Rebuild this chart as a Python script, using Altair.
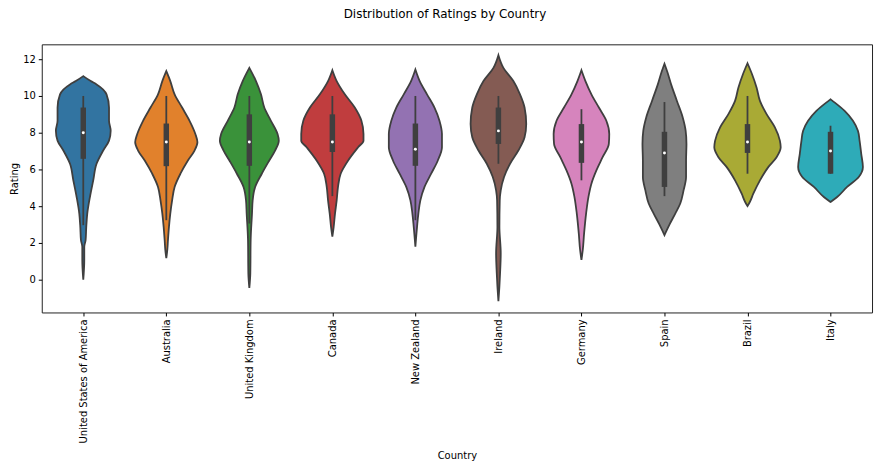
import altair as alt
import pandas as pd

countries = ["United States of America", "Australia", "United Kingdom", "Canada",
             "New Zealand", "Ireland", "Germany", "Spain", "Brazil", "Italy"]
colors = ["#3274a1", "#e1812c", "#3a923a", "#c03d3e", "#9372b2",
          "#845b53", "#d684bd", "#7f7f7f", "#a9aa35", "#2eabb8"]

# violin outlines: rating levels and half-widths (in category units)
usa_r = [11.08, 10.81, 10.63, 10.09, 9.37, 8.65, 8.11, 7.57, 7.03, 6.31, 5.41, 4.50, 3.60, 2.88, 2.16, 1.80, 1.08, 0.0]
usa_w = [0.0, 0.09, 0.16, 0.28, 0.31, 0.31, 0.33, 0.31, 0.24, 0.16, 0.12, 0.08, 0.048, 0.036, 0.028, 0.012, 0.012, 0.0]
aus_r = [11.35, 10.81, 10.09, 9.37, 8.65, 7.93, 7.48, 7.03, 6.49, 5.77, 5.05, 4.32, 3.60, 2.88, 2.16, 1.62, 1.17]
aus_w = [0.0, 0.048, 0.10, 0.19, 0.28, 0.35, 0.375, 0.34, 0.26, 0.17, 0.10, 0.07, 0.048, 0.032, 0.02, 0.012, 0.0]
uk_r = [11.53, 10.81, 10.09, 9.37, 8.65, 7.93, 7.57, 7.03, 6.49, 5.77, 5.05, 4.32, 3.60, 2.16, 0.36, -0.45]
uk_w = [0.0, 0.08, 0.14, 0.18, 0.26, 0.34, 0.355, 0.31, 0.24, 0.15, 0.07, 0.04, 0.032, 0.016, 0.012, 0.0]
can_r = [11.40, 10.81, 10.09, 9.37, 8.65, 7.93, 7.57, 7.21, 6.49, 5.77, 5.05, 4.32, 3.60, 2.88, 2.34]
can_w = [0.0, 0.052, 0.15, 0.27, 0.35, 0.375, 0.375, 0.31, 0.19, 0.10, 0.068, 0.052, 0.032, 0.016, 0.0]
nz_r = [11.44, 10.81, 10.09, 9.37, 8.65, 7.93, 7.21, 6.49, 5.77, 5.05, 4.32, 3.60, 2.88, 1.80]
nz_w = [0.0, 0.052, 0.14, 0.23, 0.29, 0.32, 0.32, 0.27, 0.19, 0.11, 0.06, 0.036, 0.02, 0.0]
ire_r = [12.22, 11.53, 10.81, 10.09, 9.37, 8.47, 7.75, 7.03, 6.31, 5.59, 4.86, 4.32, 2.88, 1.44, 0.36, -0.36, -1.17]
ire_w = [0.0, 0.06, 0.18, 0.26, 0.315, 0.335, 0.315, 0.24, 0.14, 0.068, 0.028, 0.016, 0.012, 0.028, 0.02, 0.012, 0.0]
ger_r = [11.40, 10.81, 10.09, 9.37, 8.65, 7.93, 7.39, 6.67, 5.95, 5.23, 4.50, 3.60, 2.52, 1.62, 1.08]
ger_w = [0.0, 0.048, 0.12, 0.21, 0.30, 0.335, 0.33, 0.255, 0.18, 0.12, 0.084, 0.056, 0.032, 0.016, 0.0]
spa_r = [11.75, 11.30, 10.63, 9.73, 8.83, 8.11, 7.39, 6.49, 5.59, 4.86, 4.15, 3.60, 3.00, 2.43]
spa_w = [0.0, 0.035, 0.08, 0.15, 0.22, 0.255, 0.265, 0.26, 0.26, 0.23, 0.19, 0.13, 0.06, 0.0]
bra_r = [11.78, 11.17, 10.45, 9.73, 9.01, 8.29, 7.57, 7.21, 6.67, 6.13, 5.41, 4.68, 4.23, 4.01]
bra_w = [0.0, 0.056, 0.11, 0.15, 0.23, 0.33, 0.39, 0.40, 0.35, 0.25, 0.15, 0.07, 0.028, 0.0]
ita_r = [9.82, 9.64, 9.19, 8.65, 8.11, 7.57, 6.85, 6.13, 5.59, 5.05, 4.50, 4.23]
ita_w = [0.0, 0.052, 0.17, 0.27, 0.33, 0.35, 0.37, 0.39, 0.34, 0.20, 0.08, 0.0]

# inner box plot values
whisk_lo = [2.97, 3.24, 3.06, 4.55, 3.24, 6.31, 5.41, 4.55, 5.77, 5.77]
whisk_hi = [10.0, 10.0, 10.0, 10.0, 10.0, 10.0, 9.28, 9.67, 10.0, 8.38]
q1 = [6.58, 6.18, 6.2, 6.95, 6.2, 7.39, 6.36, 5.05, 6.9, 5.77]
q3 = [9.37, 8.5, 9.0, 9.0, 8.5, 9.37, 8.47, 8.05, 8.47, 8.05]
medians = [8.0, 7.5, 7.5, 7.5, 7.1, 8.1, 7.5, 6.9, 7.5, 7.0]

profiles = [(usa_r, usa_w), (aus_r, aus_w), (uk_r, uk_w), (can_r, can_w), (nz_r, nz_w),
            (ire_r, ire_w), (ger_r, ger_w), (spa_r, spa_w), (bra_r, bra_w), (ita_r, ita_w)]

rows = []
for i, (rs, ws) in enumerate(profiles):
    for r, w in zip(rs, ws):
        rows.append({"country": countries[i], "idx": i, "rating": r, "hw": w})
violin_df = pd.DataFrame(rows).sort_values(["idx", "rating"])

box_df = pd.DataFrame({"country": countries, "idx": list(range(10)),
                       "lo": whisk_lo, "hi": whisk_hi, "q1": q1, "q3": q3, "med": medians})

label_expr = "[" + ",".join('"%s"' % c for c in countries) + "][datum.value]"

xscale = alt.Scale(domain=[-0.5, 9.5], nice=False, zero=False)
yscale = alt.Scale(domain=[-1.78, 12.81], nice=False, zero=False)

xaxis = alt.Axis(title="Country", values=list(range(10)), labelExpr=label_expr,
                 labelAngle=-90, labelFontSize=10, labelColor="#000", tickColor="#000",
                 tickSize=3.5, labelPadding=3, grid=False, domain=False,
                 titleFontSize=10, titleFontWeight="normal", titleColor="#000", titlePadding=8,
                 labelFont="DejaVu Sans", titleFont="DejaVu Sans")
yaxis = alt.Axis(title="Rating", values=[0, 2, 4, 6, 8, 10, 12], labelFontSize=10,
                 labelColor="#000", tickColor="#000", tickSize=3.5, labelPadding=3, grid=False,
                 domain=False, titleFontSize=10, titleFontWeight="normal", titleColor="#000",
                 titlePadding=3, labelFont="DejaVu Sans", titleFont="DejaVu Sans")

violins = alt.Chart(violin_df).transform_calculate(
    xl="datum.idx - datum.hw", xr="datum.idx + datum.hw"
).mark_area(orient="horizontal", stroke="#3f3f3f", strokeWidth=1.8, opacity=1,
            interpolate="monotone").encode(
    y=alt.Y("rating:Q", scale=yscale, axis=yaxis),
    x=alt.X("xl:Q", scale=xscale, axis=xaxis),
    x2="xr:Q",
    color=alt.Color("country:N", scale=alt.Scale(domain=countries, range=colors), legend=None),
    detail="country:N",
)

whiskers = alt.Chart(box_df).mark_rule(color="#3f3f3f", strokeWidth=1.8).encode(
    x=alt.X("idx:Q", scale=xscale), y=alt.Y("lo:Q", scale=yscale), y2="hi:Q")
boxes = alt.Chart(box_df).mark_rule(color="#3f3f3f", strokeWidth=5.5).encode(
    x=alt.X("idx:Q", scale=xscale), y=alt.Y("q1:Q", scale=yscale), y2="q3:Q")
meds = alt.Chart(box_df).mark_point(filled=True, color="white", size=9, opacity=1).encode(
    x=alt.X("idx:Q", scale=xscale), y=alt.Y("med:Q", scale=yscale))

chart = alt.layer(violins, whiskers, boxes, meds).properties(
    width=836, height=270,
    background="white",
    title=alt.TitleParams("Distribution of Ratings by Country", fontSize=12,
                          font="DejaVu Sans", fontWeight="normal", color="#000",
                          offset=23, dx=-12),
    autosize=alt.AutoSizeParams(type="none"),
    padding={"left": 34, "top": 35, "right": 5, "bottom": 150},
).configure_view(stroke="#222", strokeWidth=1)

chart.save("out.html", embed_options={"renderer": "svg", "actions": False})
